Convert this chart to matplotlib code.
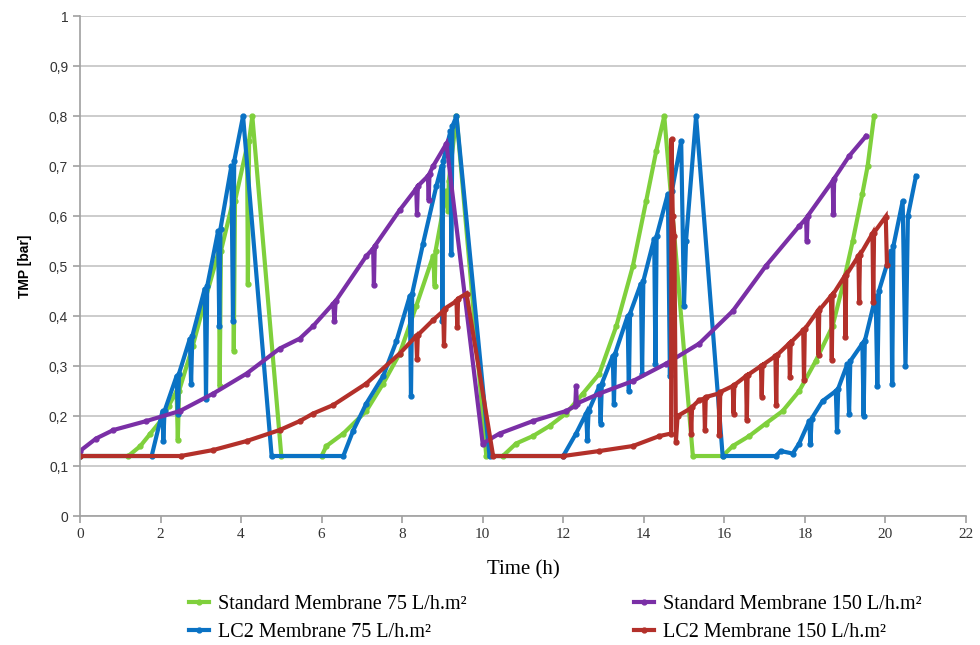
#!/usr/bin/env python3
"""TMP vs time for standard and LC2 membranes at two fluxes."""
import matplotlib
matplotlib.use("Agg")
import matplotlib.pyplot as plt

# Standard Membrane 75 L/h.m2
std75_t = [0, 1.2, 1.5, 1.75, 2.0, 2.2, 2.4, 2.43, 2.46, 2.8, 3.1, 3.45, 3.47, 3.5,
           3.8, 3.82, 3.85, 4.15, 4.17, 4.2, 4.28, 5.0, 6.0, 6.12, 6.54, 7.11, 7.53,
           7.94, 8.35, 8.77, 8.81, 8.83, 9.1, 9.14, 9.16, 9.35, 10.09, 10.5, 10.83,
           11.25, 11.66, 12.07, 12.49, 12.9, 13.32, 13.73, 14.06, 14.31, 14.51, 15.22,
           15.96, 16.21, 16.62, 17.03, 17.45, 17.86, 18.27, 18.69, 18.94, 19.19, 19.43,
           19.56, 19.72]
std75_y = [0.12, 0.12, 0.14, 0.165, 0.19, 0.22, 0.25, 0.152, 0.25, 0.34, 0.43, 0.53, 0.26, 0.53,
           0.63, 0.33, 0.63, 0.74, 0.465, 0.75, 0.80, 0.12, 0.12, 0.14, 0.165, 0.21, 0.265,
           0.325, 0.42, 0.52, 0.46, 0.53, 0.65, 0.61, 0.67, 0.80, 0.12, 0.12, 0.145,
           0.16, 0.18, 0.205, 0.245, 0.285, 0.38, 0.50, 0.63, 0.73, 0.80, 0.12,
           0.12, 0.14, 0.16, 0.185, 0.21, 0.25, 0.31, 0.38, 0.46, 0.55, 0.645,
           0.70, 0.80]

# LC2 Membrane 75 L/h.m2
lc75_t = [0, 1.78, 2.05, 2.07, 2.1, 2.4, 2.43, 2.46, 2.73, 2.76, 2.79, 3.1, 3.13, 3.16,
          3.43, 3.46, 3.49, 3.76, 3.8, 3.83, 4.05, 4.76, 6.54, 6.78, 7.11, 7.53, 7.86,
          8.19, 8.22, 8.25, 8.52, 8.85, 8.98, 9.0, 9.02, 9.2, 9.22, 9.25, 9.35, 10.17,
          12.0, 12.32, 12.57, 12.6, 12.63, 12.9, 12.93, 12.96, 13.23, 13.26, 13.29,
          13.6, 13.63, 13.66, 13.93, 13.96, 13.99, 14.26, 14.29, 14.32, 14.6, 14.65,
          14.7, 14.93, 15.0, 15.05, 15.3, 15.96, 17.28, 17.4, 17.7, 17.86, 18.11, 18.14,
          18.17, 18.44, 18.77, 18.8, 18.83, 19.06, 19.1, 19.13, 19.43, 19.46, 19.49,
          19.76, 19.8, 19.84, 20.14, 20.17, 20.2, 20.43, 20.5, 20.56, 20.76]
lc75_y = [0.12, 0.12, 0.21, 0.15, 0.21, 0.28, 0.205, 0.285, 0.355, 0.265, 0.36, 0.455, 0.235, 0.46,
          0.57, 0.38, 0.575, 0.70, 0.39, 0.71, 0.80, 0.12, 0.12, 0.17, 0.225, 0.28, 0.35,
          0.44, 0.24, 0.445, 0.545, 0.66, 0.70, 0.39, 0.71, 0.77, 0.525, 0.78, 0.80, 0.12,
          0.12, 0.165, 0.205, 0.152, 0.21, 0.26, 0.185, 0.265, 0.32, 0.225, 0.325,
          0.40, 0.25, 0.405, 0.465, 0.285, 0.47, 0.555, 0.305, 0.56, 0.645, 0.28,
          0.65, 0.75, 0.42, 0.55, 0.80, 0.12, 0.12, 0.13, 0.125, 0.145, 0.19, 0.145,
          0.195, 0.23, 0.25, 0.17, 0.255, 0.305, 0.205, 0.31, 0.345, 0.20, 0.35,
          0.44, 0.26, 0.45, 0.53, 0.265, 0.54, 0.63, 0.30, 0.60, 0.68]

# Standard Membrane 150 L/h.m2
std150_t = [0, 0.4, 0.83, 1.65, 2.48, 3.31, 4.14, 4.96, 5.46, 5.79, 6.29, 6.32, 6.35,
            7.11, 7.28, 7.3, 7.32, 7.94, 8.35, 8.37, 8.39, 8.64, 8.66, 8.68, 8.77, 9.1,
            10.0, 10.42, 11.25, 12.07, 12.3, 12.32, 12.34, 12.9, 13.73, 14.56, 15.38,
            16.21, 17.03, 17.86, 18.03, 18.05, 18.07, 18.69, 18.71, 18.73, 19.1, 19.52]
std150_y = [0.13, 0.155, 0.172, 0.19, 0.21, 0.245, 0.285, 0.335, 0.355, 0.38, 0.425, 0.39, 0.43,
            0.52, 0.535, 0.462, 0.54, 0.612, 0.655, 0.605, 0.66, 0.68, 0.632, 0.685, 0.70, 0.745,
            0.145, 0.165, 0.19, 0.21, 0.22, 0.26, 0.225, 0.245, 0.27, 0.305, 0.345,
            0.41, 0.50, 0.58, 0.595, 0.55, 0.60, 0.67, 0.605, 0.675, 0.72, 0.76]

# LC2 Membrane 150 L/h.m2
lc150_t = [0, 2.5, 3.31, 4.14, 4.96, 5.46, 5.79, 6.29, 7.11, 7.94, 8.35, 8.37, 8.39,
           8.77, 9.02, 9.04, 9.06, 9.35, 9.37, 9.39, 9.6, 10.26, 12.0, 12.9, 13.73,
           14.39, 14.68, 14.69, 14.72, 14.76, 14.8, 14.84, 15.16, 15.18, 15.2, 15.38,
           15.5, 15.52, 15.54, 15.86, 15.88, 15.9, 16.21, 16.23, 16.25, 16.54, 16.56,
           16.58, 16.91, 16.93, 16.95, 17.27, 17.29, 17.31, 17.61, 17.63, 17.65, 17.96,
           17.98, 18.0, 18.32, 18.34, 18.36, 18.65, 18.67, 18.69, 18.99, 19.01, 19.03,
           19.33, 19.35, 19.37, 19.68, 19.7, 19.72, 20.01, 20.04]
lc150_y = [0.12, 0.12, 0.132, 0.15, 0.172, 0.19, 0.205, 0.222, 0.265, 0.325, 0.36, 0.315, 0.362,
           0.392, 0.41, 0.342, 0.415, 0.43, 0.379, 0.435, 0.445, 0.12, 0.12, 0.13, 0.14,
           0.16, 0.165, 0.755, 0.60, 0.56, 0.149, 0.20, 0.215, 0.165, 0.218, 0.232,
           0.235, 0.172, 0.238, 0.245, 0.162, 0.248, 0.26, 0.205, 0.262, 0.28, 0.192,
           0.282, 0.30, 0.239, 0.302, 0.32, 0.222, 0.322, 0.345, 0.279, 0.347, 0.372,
           0.272, 0.374, 0.41, 0.322, 0.412, 0.44, 0.312, 0.442, 0.48, 0.359, 0.482,
           0.52, 0.429, 0.522, 0.565, 0.429, 0.567, 0.599, 0.502]

labels = ["Standard Membrane 75 L/h.m²", "LC2 Membrane 75 L/h.m²",
          "Standard Membrane 150 L/h.m²", "LC2 Membrane 150 L/h.m²"]
colors = ["#7fd03c", "#0a72c4", "#7a2fa6", "#b3302a"]

fig = plt.figure(figsize=(9.8, 6.45), dpi=100)
ax = fig.add_axes([0.0816, 0.2, 0.904, 0.775])

series = [(std75_t, std75_y), (lc75_t, lc75_y), (std150_t, std150_y), (lc150_t, lc150_y)]
handles = []
for (t, y), c, lab in zip(series, colors, labels):
    h, = ax.plot(t, y, color=c, lw=3, marker="o", ms=3.5, label=lab,
                 solid_joinstyle="miter")
    handles.append(h)

ax.set_xlim(0, 22)
ax.set_ylim(0, 1)
ax.set_xticks(range(0, 23, 2))
ax.set_yticks([i / 10 for i in range(11)])
ax.set_yticklabels(["0"] + [f"0,{i}" for i in range(1, 10)] + ["1"],
                   fontsize=10, family="Liberation Sans", color="#333333")
ax.set_xticklabels([str(v) for v in range(0, 23, 2)], fontsize=11,
                   family="Liberation Serif", color="#333333")
ax.grid(axis="y", color="#c4c4c4", lw=1.2)
ax.set_axisbelow(True)
for s in ["top", "right"]:
    ax.spines[s].set_visible(False)
for s in ["left", "bottom"]:
    ax.spines[s].set_color("#a0a0a0")
    ax.spines[s].set_linewidth(1.2)
ax.tick_params(axis="both", colors="#a0a0a0", length=5, width=1.2, labelcolor="#333333")

ax.set_ylabel("TMP [bar]", fontsize=10, fontweight="bold", family="Liberation Sans",
              labelpad=12)
ax.set_xlabel("Time (h)", fontsize=15, family="Liberation Serif", labelpad=14)

fig.legend(handles=handles, labels=labels, ncol=2, loc="center",
           bbox_to_anchor=(0.567, 0.041), frameon=False, handlelength=1.0,
           columnspacing=8.3, labelspacing=0.45, handletextpad=0.45,
           prop={"family": "Liberation Serif", "size": 14.5})

fig.savefig("out.png", dpi=100)
